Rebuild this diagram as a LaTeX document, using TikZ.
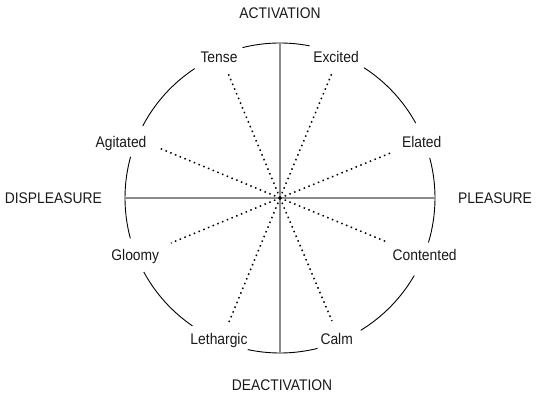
\documentclass[tikz,border=0pt]{standalone}
\usepackage{fontspec}
\setmainfont{Liberation Sans}[FakeStretch=0.9]
\begin{document}
\begin{tikzpicture}[x=1pt,y=1pt,
  lbl/.style={anchor=base,inner sep=0pt,text=black!90,
    font=\fontsize{15.4}{18}\selectfont},
  rim/.style={black,line width=0.9pt},
  axis/.style={black!45,line width=1.5pt},
  mood/.style={black,line width=1.5pt,dash pattern=on 1.5pt off 3.6pt}]
\useasboundingbox (-280,-201) rectangle (259,198);
\def\R{155}

% centre and ends of the two axes
\coordinate (o) at (0,0);
\coordinate (top) at (90:\R);
\coordinate (bot) at (270:\R);
\coordinate (lft) at (180:\R);
\coordinate (rgt) at (0:\R);

% rim of the circle, broken where the words sit
\foreach \a/\b in {79/104, 123.4/152.3, 164.6/195.1, 208.5/235.6,
                   258/284, 301.4/330, 343.3/375, 28.9/57.2}
  \draw[rim] (\a:\R) arc[start angle=\a, end angle=\b, radius=\R];

% axes
\draw[axis] (top) -- (bot);
\draw[axis] (lft) -- (rgt);

% axis titles
\node[lbl] (act) at (0,179.7) {ACTIVATION};
\node[lbl] (deact) at (2,-192) {DEACTIVATION};
\node[lbl] (displ) at (-226.7,-5.3) {DISPLEASURE};
\node[lbl] (pleas) at (215,-5.3) {PLEASURE};

% mood words
\node[lbl] (tense) at (-61,135) {Tense};
\node[lbl] (excited) at (56,135) {Excited};
\node[lbl] (agitated) at (-159,50) {Agitated};
\node[lbl] (elated) at (141.7,50) {Elated};
\node[lbl] (gloomy) at (-144.7,-63) {Gloomy};
\node[lbl] (contented) at (144.7,-63) {Contented};
\node[lbl] (lethargic) at (-61,-146.3) {Lethargic};
\node[lbl] (calm) at (56.7,-146.3) {Calm};

% ends of the dotted rays
\coordinate (eTense) at (-52,125);
\coordinate (eExcited) at (52,125);
\coordinate (eAgitated) at (-121,50);
\coordinate (eElated) at (113,46);
\coordinate (eGloomy) at (-109,-45);
\coordinate (eContented) at (107,-44);
\coordinate (eLethargic) at (-51,-124);
\coordinate (eCalm) at (52,-123);

\foreach \e in {eTense,eExcited,eAgitated,eElated,eGloomy,eContented,eLethargic,eCalm}
  \draw[mood] (o) -- (\e);
\end{tikzpicture}
\end{document}
